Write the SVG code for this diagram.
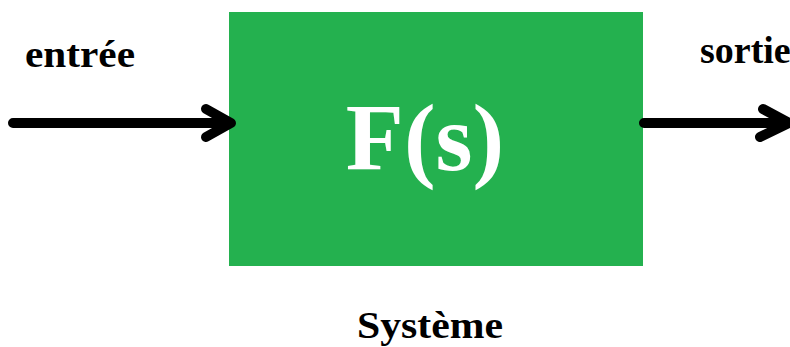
<svg xmlns="http://www.w3.org/2000/svg" width="790" height="347" viewBox="0 0 790 347">
  <style>
    .label { font-family: "Liberation Serif", "Times New Roman", serif; font-weight: bold; fill: #000; }
    .title { font-family: "Liberation Serif", "Times New Roman", serif; font-weight: bold; fill: #fff; }
    .wire { stroke: #000; stroke-width: 10; fill: none; stroke-linecap: round; stroke-linejoin: round; }
  </style>
  <rect width="790" height="347" fill="#fff"/>

  <g id="system">
    <rect x="229" y="12" width="414" height="254" fill="#24B14F"/>
    <text class="title" x="425" y="170" font-size="95" text-anchor="middle">F(s)</text>
    <text class="label" x="430" y="338" font-size="38" text-anchor="middle" textLength="146" lengthAdjust="spacingAndGlyphs">Système</text>
  </g>

  <g id="input-label">
    <text class="label" x="25" y="67" font-size="38" textLength="110" lengthAdjust="spacingAndGlyphs">entrée</text>
  </g>

  <g id="output-label">
    <text class="label" x="700" y="63" font-size="38">sortie</text>
  </g>

  <g id="connectors">
    <path class="wire" d="M 13 123 L 230 123 M 206 109 L 231 123 L 206 137"/>
    <path class="wire" d="M 644 123 L 788 123 M 763 109 L 789 123 L 760 137"/>
  </g>
</svg>
